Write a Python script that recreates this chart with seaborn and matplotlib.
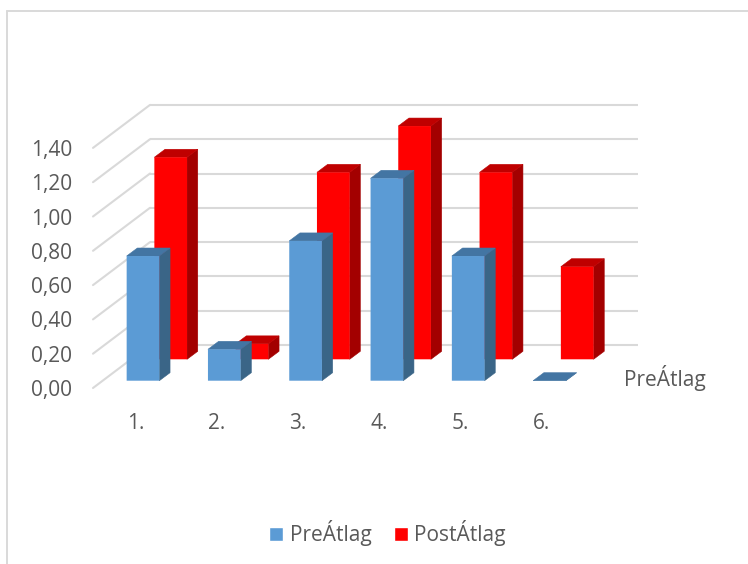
import matplotlib
matplotlib.use("Agg")
import matplotlib.pyplot as plt
import pandas as pd
import seaborn as sns
from matplotlib.lines import Line2D
from matplotlib.patches import ConnectionPatch, Patch, Polygon

categories = ["1.", "2.", "3.", "4.", "5.", "6."]
pre_values = [0.727, 0.183, 0.815, 1.18, 0.727, 0.0]
post_values = [1.178, 0.09, 1.09, 1.36, 1.09, 0.54]
value_ticks = [0.0, 0.2, 0.4, 0.6, 0.8, 1.0, 1.2, 1.4]
pre_name = "PreÁtlag"
post_name = "PostÁtlag"

WIDTH, HEIGHT = 748, 564
PX_PER_UNIT = 171.5
PX_PER_CATEGORY = 81.3
LABEL_SPACING = 81.0
DEPTH_X, DEPTH_Y = 10.7, 8
Y_MIN, Y_MAX = -0.1, 1.6
GRID = "#D9D9D9"
TEXT = "#595959"
FONT_PT = 15

sns.set_theme(style="white")
plt.rcParams["font.family"] = ["Open Sans", "DejaVu Sans"]
plt.rcParams["text.color"] = TEXT

fig = plt.figure(figsize=(WIDTH / 100, HEIGHT / 100), dpi=100, facecolor="white")


def layer(left_px, baseline_px, width_px, xlim):
    """Transparent axes whose value 0 sits at baseline_px, all on one vertical scale."""
    bottom_px = baseline_px - Y_MIN * PX_PER_UNIT
    height_px = (Y_MAX - Y_MIN) * PX_PER_UNIT
    ax = fig.add_axes([left_px / WIDTH, 1 - bottom_px / HEIGHT,
                       width_px / WIDTH, height_px / HEIGHT])
    ax.patch.set_alpha(0)
    ax.set_xlim(*xlim)
    ax.set_ylim(Y_MIN, Y_MAX)
    sns.despine(ax=ax, left=True, bottom=True)
    ax.set_xlabel("")
    ax.set_ylabel("")
    ax.tick_params(length=0)
    return ax


def column_layer(center_px, baseline_px, values, front, side, top):
    """One row of 3D columns: seaborn bars as front faces, extruded into depth."""
    left_px = center_px - PX_PER_CATEGORY / 2
    ax = layer(left_px, baseline_px, PX_PER_CATEGORY * 6, (-0.5, 5.5))
    frame = pd.DataFrame({"category": categories, "value": values})
    sns.barplot(data=frame, x="category", y="value", order=categories, color=front,
                saturation=1, width=0.402, ax=ax, linewidth=0)
    ax.set_xlim(-0.5, 5.5)
    ax.set_ylim(Y_MIN, Y_MAX)
    ax.set_xlabel("")
    ax.set_ylabel("")
    ax.set_xticks([])
    ax.set_yticks([])
    dx = DEPTH_X / PX_PER_CATEGORY
    dy = DEPTH_Y / PX_PER_UNIT
    for bar in list(ax.patches):
        bar.set_snap(False)
        bar.set_zorder(2)
        x0, x1 = bar.get_x(), bar.get_x() + bar.get_width()
        y0, y1 = 0, bar.get_height()
        ax.add_patch(Polygon([(x1, y0), (x1 + dx, y0 + dy), (x1 + dx, y1 + dy), (x1, y1)],
                             facecolor=side, edgecolor=side, linewidth=0.4, zorder=1))
        ax.add_patch(Polygon([(x0, y1), (x1, y1), (x1 + dx, y1 + dy), (x0 + dx, y1 + dy)],
                             facecolor=top, edgecolor=top, linewidth=0.4, zorder=1))
    return ax


# back wall with its horizontal gridlines
wall = layer(150, 345, 487.7, (0, 1))
wall.set_xticks([])
wall.set_yticks(value_ticks)
wall.set_yticklabels([])
wall.grid(axis="y", color=GRID, linewidth=1.5)
wall.set_axisbelow(True)

# plane of the axis labels at the front of the floor
first_label = -(136 - 93) / LABEL_SPACING
front = layer(93, 388, 545, (first_label, first_label + 545 / LABEL_SPACING))
front.set_xticks(range(len(categories)))
front.set_xticklabels(categories, fontsize=FONT_PT, color=TEXT)
front.set_yticks(value_ticks)
front.set_yticklabels([f"{v:.2f}".replace(".", ",") for v in value_ticks],
                      fontsize=FONT_PT, color=TEXT)
front.tick_params(axis="y", pad=15)
front.tick_params(axis="x", pad=5.5)

# side wall: each gridline folds forward to its value label
for v in value_ticks:
    fold = ConnectionPatch((0, v), (0, v),
                           coordsA=wall.get_yaxis_transform(),
                           coordsB=front.get_yaxis_transform(),
                           arrowstyle="-", color=GRID, linewidth=1.5, zorder=0.5)
    fold.set_clip_on(False)
    wall.add_artist(fold)

column_layer(143 + 27.7, 359.3, post_values, "#FF0000", "#A30000", "#BF0000")
column_layer(143, 380.7, pre_values, "#5B9BD5", "#3A6587", "#4375A3")

# depth-axis series name
fig.text(624 / WIDTH, 1 - 378 / HEIGHT, pre_name, fontsize=FONT_PT, color=TEXT,
         ha="left", va="center")

fig.legend(handles=[Patch(facecolor="#5B9BD5", label=pre_name),
                    Patch(facecolor="#FF0000", label=post_name)],
           loc="center", bbox_to_anchor=(387.5 / WIDTH, 1 - 533 / HEIGHT), ncol=2, frameon=False,
           fontsize=FONT_PT, handlelength=0.67, handleheight=0.67, handletextpad=0.33,
           columnspacing=1.05, labelcolor=TEXT, borderpad=0)

# chart area outline
for xs, ys in [((7, 7), (11, 564)), ((7, 748), (11, 11))]:
    fig.add_artist(Line2D([x / WIDTH for x in xs], [1 - y / HEIGHT for y in ys],
                          color=GRID, linewidth=1.4))

fig.savefig("out.png", dpi=100, facecolor="white")
